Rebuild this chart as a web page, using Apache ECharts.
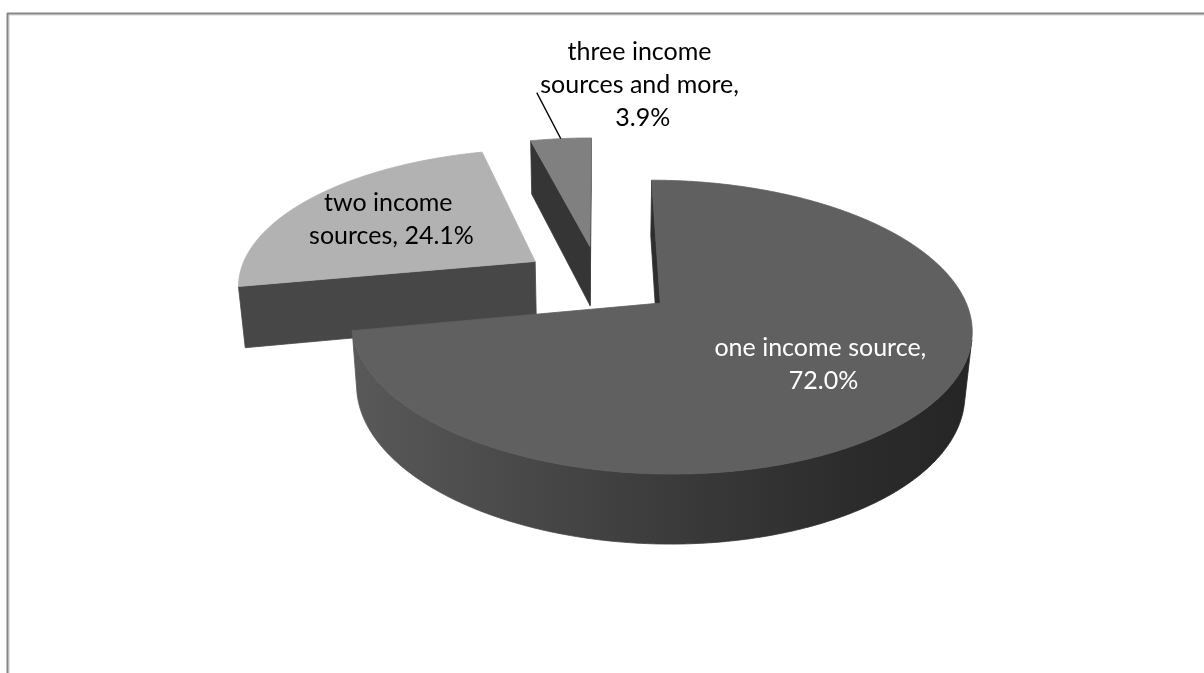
<!DOCTYPE html>
<html>
<head>
<meta charset="utf-8">
<title>Income sources</title>
<script src="https://cdn.jsdelivr.net/npm/echarts@6/dist/echarts.min.js"></script>
<style>
  html, body { margin: 0; padding: 0; background: #ffffff; }
  #chart { width: 1204px; height: 673px; }
</style>
</head>
<body>
<div id="chart"></div>
<script>
// ---- data ----
const categories = ['one income source', 'two income sources', 'three income sources and more'];
const shares = [72.0, 24.1, 3.9];

// ---- styles ----
const topFill = ['#606060', '#b2b2b2', '#808080'];
const sideFill = ['#2e2e2e', '#474747', '#353535'];
const outerWallStops = [
  [[0, '#595959'], [0.3, '#474747'], [0.55, '#393939'], [0.8, '#2c2c2c'], [1, '#252525']],
  [[0, '#5a5a5a'], [1, '#3a3a3a']],
  [[0, '#4a4a4a'], [1, '#2a2a2a']]
];
const labelColor = ['#ffffff', '#000000', '#000000'];
const labelWrap = [245, 180, 225];
const labelPlace = ['inside', 'inside', 'outside'];
const labelFont = '25px Lato, "Noto Sans", sans-serif';
const labelLineHeight = 33;
const insideLabelRadius = 0.63;
const outsideLabel = { dx: 82, dy: -54, leaderDx: -106, leaderDy: 8 };

// ---- 3D view of the pie (unit radius, top face at y = 0) ----
const view = {
  cx: 599, cy: 280,      // screen position of the pie axis
  focal: 1665,           // perspective focal length, px
  dist: 5.59,            // camera distance in radii
  tilt: 27.07,           // camera elevation, degrees
  depth: 0.234,          // pie thickness in radii
  explode: 0.26          // slice pull-out in radii
};

const rad = d => d * Math.PI / 180;
const dir = d => [Math.sin(rad(d)), Math.cos(rad(d))]; // clockwise from the far side
const SIN = Math.sin(rad(view.tilt));
const COS = Math.cos(rad(view.tilt));
const camera = [0, view.dist * SIN, -view.dist * COS];

function project(x, y, z) {
  const zc = view.dist + z * COS - y * SIN;
  const yc = y * COS + z * SIN;
  return [view.cx + view.focal * x / zc, view.cy - view.focal * yc / zc];
}
function facesCamera(n, p) {
  return n[0] * (camera[0] - p[0]) + n[1] * (camera[2] - p[2]) > 0;
}

// slice angles from the shares
const total = shares.reduce((a, b) => a + b, 0);
let acc = 0;
const slices = shares.map(v => {
  const a0 = acc / total * 360;
  acc += v;
  const a1 = acc / total * 360;
  return { a0, a1, mid: (a0 + a1) / 2 };
});
// paint far slices first
const order = slices.map((s, i) => i).sort((p, q) => {
  const zp = dir(slices[p].mid)[1], zq = dir(slices[q].mid)[1];
  return zq - zp;
});

function polygon(points, fill, z2, stroke) {
  return {
    type: 'polygon',
    shape: { points },
    style: { fill, stroke: stroke || fill, lineWidth: 0.8, lineJoin: 'round' },
    z2,
    silent: true
  };
}

function renderItem(params, api) {
  const i = params.dataIndex;
  const sl = slices[i];
  const od = dir(sl.mid);
  const ox = od[0] * view.explode, oz = od[1] * view.explode;
  const H = view.depth;
  const rim = (deg, y, r) => {
    const d = dir(deg);
    const rr = r == null ? 1 : r;
    return project(ox + d[0] * rr, y, oz + d[1] * rr);
  };
  const center = y => project(ox, y, oz);
  const steps = Math.max(2, Math.ceil((sl.a1 - sl.a0) / 0.5));
  const angles = [];
  for (let k = 0; k <= steps; k++) angles.push(sl.a0 + (sl.a1 - sl.a0) * k / steps);
  const base = order.indexOf(i) * 10;
  const children = [];

  // radial walls
  [[sl.a0, -90], [sl.a1, 90]].forEach(([a, turn]) => {
    const d = dir(a);
    const n = dir(a + turn);
    const p = [ox + d[0] * 0.5, -H / 2, oz + d[1] * 0.5];
    if (facesCamera(n, p)) {
      children.push(polygon([center(0), rim(a, 0), rim(a, -H), center(-H)], sideFill[i], base + 1));
    }
  });

  // curved outer wall, front-facing runs only
  let run = [];
  const flush = () => {
    if (run.length > 1) {
      const pts = run.map(a => rim(a, 0)).concat(run.slice().reverse().map(a => rim(a, -H)));
      const grad = new echarts.graphic.LinearGradient(0, 0, 1, 0,
        outerWallStops[i].map(s => ({ offset: s[0], color: s[1] })));
      children.push(polygon(pts, grad, base + 2, grad));
    }
    run = [];
  };
  angles.forEach(a => {
    const d = dir(a);
    if (facesCamera(d, [ox + d[0], -H / 2, oz + d[1]])) run.push(a); else flush();
  });
  flush();

  // top face
  children.push(polygon([center(0)].concat(angles.map(a => rim(a, 0))), topFill[i], base + 3));

  // label
  const text = categories[i] + ', ' + api.value(0).toFixed(1) + '%';
  let lx, ly;
  if (labelPlace[i] === 'inside') {
    [lx, ly] = rim(sl.mid, 0, insideLabelRadius);
  } else {
    const edge = rim(sl.mid, 0, 1);
    lx = edge[0] + outsideLabel.dx;
    ly = edge[1] + outsideLabel.dy;
    children.push({
      type: 'polyline',
      shape: { points: [edge, [lx + outsideLabel.leaderDx, ly + outsideLabel.leaderDy]] },
      style: { stroke: '#000000', lineWidth: 1.3, fill: null },
      z2: 99,
      silent: true
    });
  }
  children.push({
    type: 'text',
    style: {
      text, x: lx, y: ly,
      fill: labelColor[i], font: labelFont,
      align: 'center', verticalAlign: 'middle',
      width: labelWrap[i], overflow: 'break', lineHeight: labelLineHeight
    },
    z2: 100,
    silent: true
  });

  return { type: 'group', children };
}

const chart = echarts.init(document.getElementById('chart'), null, { renderer: 'canvas' });
chart.setOption({
  animation: false,
  backgroundColor: '#ffffff',
  graphic: [
    { type: 'line', shape: { x1: 7, y1: 15, x2: 1204, y2: 15 }, style: { stroke: '#d4d4d4', lineWidth: 1 }, silent: true },
    { type: 'line', shape: { x1: 9, y1: 13, x2: 9, y2: 673 }, style: { stroke: '#d4d4d4', lineWidth: 1 }, silent: true },
    { type: 'line', shape: { x1: 7, y1: 13.5, x2: 1204, y2: 13.5 }, style: { stroke: '#868686', lineWidth: 2 }, silent: true },
    { type: 'line', shape: { x1: 7.5, y1: 13, x2: 7.5, y2: 673 }, style: { stroke: '#868686', lineWidth: 2 }, silent: true }
  ],
  series: [{
    type: 'custom',
    coordinateSystem: 'none',
    renderItem,
    data: shares.map((v, i) => ({ name: categories[i], value: v }))
  }]
});
</script>
</body>
</html>
